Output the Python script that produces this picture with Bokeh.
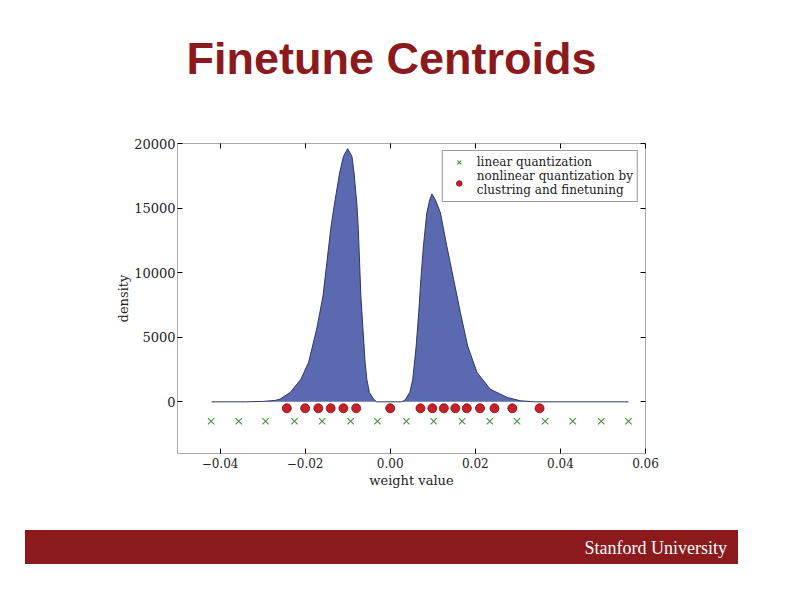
from bokeh.plotting import figure
from bokeh.models import (ColumnDataSource, FixedTicker, LinearAxis, Legend, LegendItem,
                          Div, Range1d, CustomJSTickFormatter)
from bokeh.layouts import column
from bokeh.embed import file_html
from bokeh.resources import INLINE

# ---- data ----
density_x = [-0.0420, -0.0340, -0.0300, -0.0270, -0.0259, -0.0235, -0.0210, -0.0192, -0.0173,
             -0.0158, -0.0149, -0.0140, -0.0132, -0.0119, -0.0110, -0.0100, -0.0090, -0.0085,
             -0.0078, -0.0075, -0.0072, -0.0069, -0.0064, -0.0059, -0.0055, -0.0049, -0.0039,
             -0.0032, 0.0027, 0.0035, 0.0046, 0.0053, 0.0061, 0.0067, 0.0072, 0.0078, 0.0086,
             0.0093, 0.0098, 0.0106, 0.0118, 0.0133, 0.0149, 0.0165, 0.0182, 0.0204, 0.0235,
             0.0275, 0.0306, 0.0340, 0.0560]
density_y = [0, 0, 30, 110, 210, 725, 1750, 3040, 5610,
             8190, 10760, 13340, 15140, 17710, 19000, 19600, 19000, 17710,
             15140, 13340, 10760, 8190, 5610, 3040, 1750, 725, 210,
             0, 0, 150, 725, 1750, 4320, 6900, 9480, 12050, 14620,
             15660, 16100, 15660, 14620, 12050, 9480, 6900, 4320, 2270, 980,
             340, 80, 0, 0]

linear_x = [-0.0421, -0.0356, -0.0293, -0.0225, -0.0160, -0.0093, -0.0030, 0.0038,
            0.0102, 0.0169, 0.0234, 0.0298, 0.0364, 0.0429, 0.0496, 0.0560]
linear_y = [-1500] * 16

nonlinear_x = [-0.0243, -0.0200, -0.0169, -0.0140, -0.0110, -0.0080, 0.0000, 0.0071,
               0.0099, 0.0126, 0.0153, 0.0180, 0.0211, 0.0245, 0.0287, 0.0351]
nonlinear_y = [-500] * 16

x_ticks = [-0.04, -0.02, 0.0, 0.02, 0.04, 0.06]
x_tick_labels = ["\u22120.04", "\u22120.02", "0.00", "0.02", "0.04", "0.06"]
y_ticks = [0, 5000, 10000, 15000, 20000]
y_tick_labels = ["0", "5000", "10000", "15000", "20000"]

title_text = "Finetune Centroids"
footer_text = "Stanford University"
legend_labels = ["linear quantization", "nonlinear quantization by\nclustring and finetuning"]

# ---- styling ----
CARDINAL = "#8c1a1d"
SERIF = "DejaVu Serif"
W = 794

title_div = Div(
    text=f'<div style="width:{W}px;height:108px;box-sizing:border-box;padding-top:34px;'
         f'padding-right:11px;text-align:center;font-family:\'Liberation Sans\',Arial,sans-serif;'
         f'font-weight:bold;font-size:45px;line-height:50px;color:{CARDINAL};">{title_text}</div>',
    width=W, height=108, margin=(0, 0, 0, 0))

p = figure(width=W, height=412, output_backend="svg", toolbar_location=None,
           x_range=Range1d(-0.05, 0.06), y_range=Range1d(-4000, 20000),
           min_border_left=177, min_border_right=149, min_border_top=35,
           min_border_bottom=67, x_axis_label="weight value", y_axis_label="density")
p.grid.visible = False
p.outline_line_color = "#a8a8a8"
p.outline_line_width = 1
p.background_fill_color = "white"
p.border_fill_color = "white"

src = ColumnDataSource(dict(x=density_x, y=density_y))
p.varea(x="x", y1=0, y2="y", source=src, fill_color="#5b69b0", fill_alpha=1.0)
p.line(x="x", y="y", source=src, line_color="#2f3660", line_width=1)

r_lin = p.scatter(linear_x, linear_y, marker="x", size=9, line_color="#3d9a3d", line_width=1.1)
r_non = p.scatter(nonlinear_x, nonlinear_y, marker="circle", size=9, fill_color="#c8202a",
                  line_color="#7a1212", line_width=0.8)

for ax in (p.xaxis[0], p.yaxis[0]):
    ax.axis_line_color = "#a8a8a8"
    ax.major_tick_in = 5
    ax.major_tick_out = 0
    ax.major_tick_line_color = "black"
    ax.minor_tick_line_color = None
    ax.major_label_text_font = SERIF
    ax.major_label_text_color = "#222222"
    ax.axis_label_text_font = SERIF
    ax.axis_label_text_font_size = "13px"
    ax.axis_label_text_font_style = "normal"
    ax.axis_label_text_color = "#222222"

p.xaxis[0].ticker = FixedTicker(ticks=x_ticks)
p.xaxis[0].major_label_overrides = dict(zip(x_ticks, x_tick_labels))
p.xaxis[0].major_label_text_font_size = "12px"
p.xaxis[0].major_label_standoff = 4
p.xaxis[0].axis_label_standoff = 2
p.yaxis[0].ticker = FixedTicker(ticks=y_ticks)
p.yaxis[0].major_label_overrides = dict(zip(y_ticks, y_tick_labels))
p.yaxis[0].major_label_text_font_size = "13px"
p.yaxis[0].major_label_standoff = 2
p.yaxis[0].axis_label_standoff = 0

blank = CustomJSTickFormatter(code="return ''")
top_ax = LinearAxis(ticker=FixedTicker(ticks=x_ticks), formatter=blank,
                    axis_line_color=None, major_tick_in=5, major_tick_out=0,
                    minor_tick_line_color=None, major_label_standoff=0)
right_ax = LinearAxis(ticker=FixedTicker(ticks=y_ticks), formatter=blank,
                      axis_line_color=None, major_tick_in=5, major_tick_out=0,
                      minor_tick_line_color=None, major_label_standoff=0)
p.add_layout(top_ax, "above")
p.add_layout(right_ax, "right")

legend = Legend(items=[LegendItem(label=legend_labels[0], renderers=[r_lin]),
                       LegendItem(label=legend_labels[1], renderers=[r_non])],
                location="top_right", margin=7, padding=4, spacing=0,
                label_text_font=SERIF, label_text_font_size="12px", label_text_color="#222222",
                label_standoff=6, glyph_width=24, glyph_height=14, label_height=14,
                border_line_color="#333333", border_line_width=1,
                background_fill_color="white", background_fill_alpha=1.0)
p.add_layout(legend)

footer_div = Div(
    text=f'<div style="width:{W}px;height:70px;box-sizing:border-box;padding-top:10px;'
         f'padding-left:25px;"><div style="width:713px;height:34px;background:{CARDINAL};'
         f'box-sizing:border-box;padding-right:11px;text-align:right;color:white;'
         f'font-family:\'Liberation Serif\',serif;font-size:18px;line-height:36px;">'
         f'{footer_text}</div></div>',
    width=W, height=70, margin=(0, 0, 0, 0))

layout = column(title_div, p, footer_div, spacing=0)

with open("out.html", "w") as f:
    f.write(file_html(layout, INLINE))
